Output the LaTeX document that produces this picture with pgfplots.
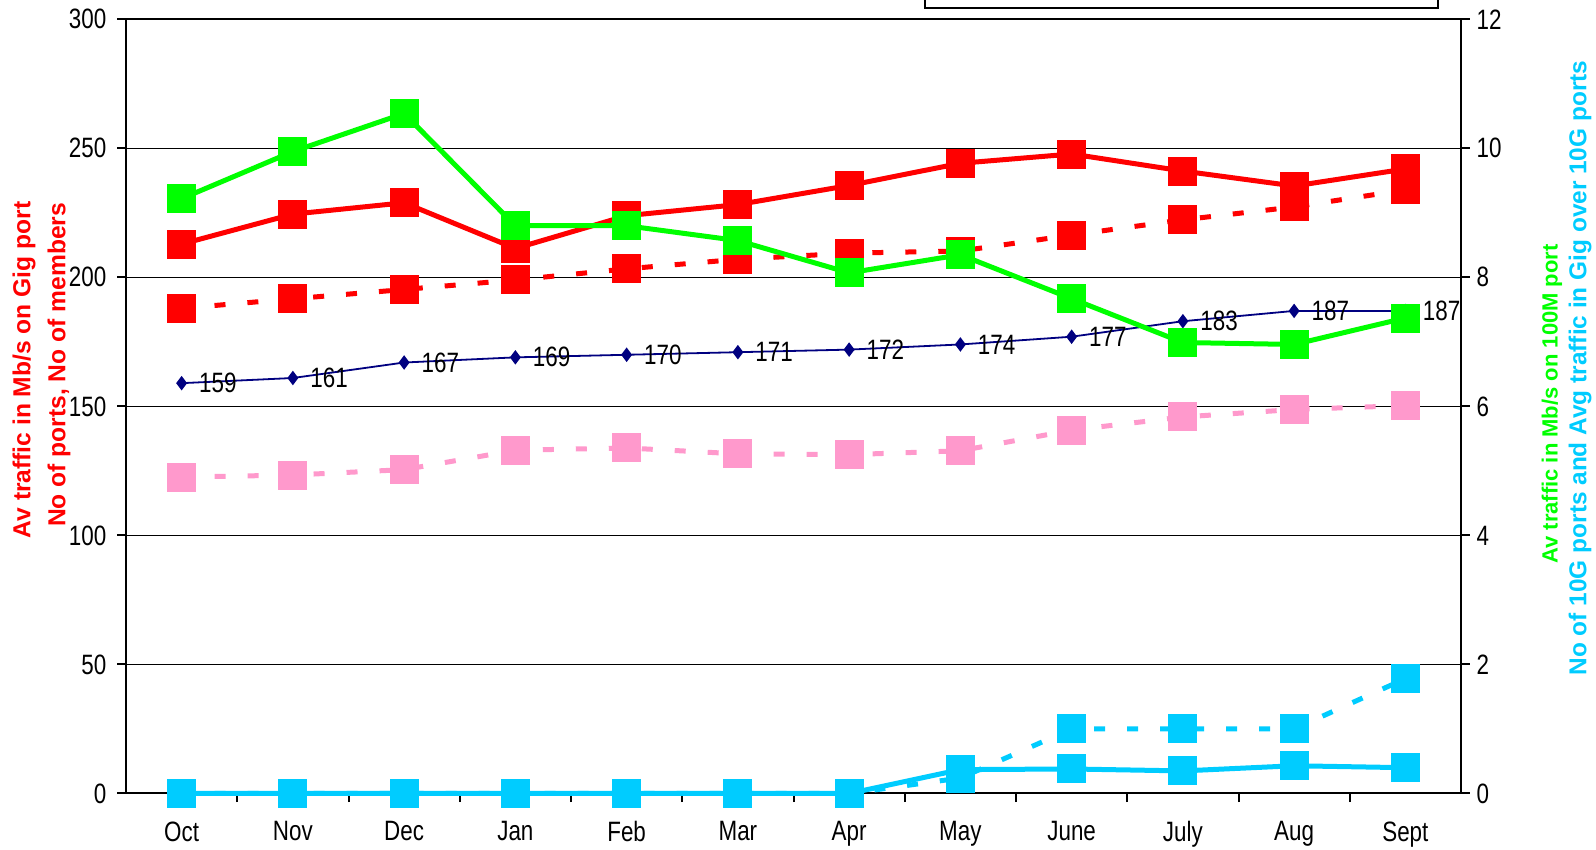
\documentclass[border=0pt]{standalone}
\usepackage{pgfplots}
\pgfplotsset{compat=1.18}
\usepackage{pgfplotstable}
\usepackage{fontspec}
\setmainfont{Liberation Sans}
\newfontfamily\narrow{Liberation Sans}[FakeStretch=0.8]
\definecolor{xred}{RGB}{255,0,0}
\definecolor{xgreen}{RGB}{0,255,0}
\definecolor{xpink}{RGB}{255,153,204}
\definecolor{xcyan}{RGB}{0,204,255}
\definecolor{xnavy}{RGB}{0,0,128}

\pgfplotstableread{
idx red reddash navy pink green cyan cyandash
0  212.9 188.0 159 122.6 9.22 0    0
1  224.5 191.7 161 123.4 9.95 0    0
2  228.9 195.3 167 125.5 10.54 0   0
3  211.2 199.0 169 133.0 8.80 0    0
4  223.9 203.3 170 133.9 8.80 0    0
5  228.2 207.0 171 131.6 8.57 0    0
6  235.6 209.4 172 131.3 8.07 0    0
7  244.2 210.2 174 132.8 8.35 0.37 0.24
8  247.8 216.4 177 140.8 7.67 0.38 1.00
9  241.2 222.3 183 145.9 6.99 0.35 1.00
10 235.4 227.3 187 148.8 6.96 0.43 1.00
11 242.0 233.9 187 150.3 7.37 0.40 1.78
}\datatable

\begin{document}
\begin{tikzpicture}
\pgfplotsset{
  common/.style={
    scale only axis, width=667.5pt, height=387.1pt,
    at={(0pt,0pt)}, anchor=south west,
    xmin=-0.5, xmax=11.5,
    /pgf/number format/assume math mode=true,
    tick align=outside, major tick length=4.3pt,
    ticklabel style={font=\narrow\fontsize{14}{16}\selectfont},
    axis line style={black, line width=1pt},
    tick style={black, line width=1pt},
    clip=false,
  },
  sq/.style={line width=2.5pt, mark=square*, mark size=7pt, mark options={solid, line width=0pt}},
  dsh/.style={dash pattern=on 5.5pt off 11pt},
}
\begin{axis}[common,
  axis y line*=left, axis x line*=bottom,
  ymin=0, ymax=300, ytick={0,50,...,300},
  ymajorgrids, grid style={black, line width=0.8pt},
  xtick={0.5,1.5,...,10.5}, xticklabels={},
  extra x ticks={0,1,...,11},
  extra x tick labels={Oct,Nov,Dec,Jan,Feb,Mar,Apr,May,June,July,Aug,Sept},
  extra x tick style={major tick length=0pt, xticklabel style={yshift=-10.5pt}},
  yticklabel style={xshift=-2pt},
]
\addplot[color=xpink, sq, dsh] table[x=idx, y=pink] {\datatable};
\addplot[color=xred, sq, dsh] table[x=idx, y=reddash] {\datatable};
\addplot[color=xred, sq] table[x=idx, y=red] {\datatable};
\addplot[color=xnavy, line width=0.9pt, mark=diamond*, mark size=2.9pt, mark options={solid},
  nodes near coords, point meta=y,
  every node near coord/.append style={anchor=west, xshift=5pt, text=black, font=\narrow\fontsize{14}{16}\selectfont}]
  table[x=idx, y=navy] {\datatable};
\end{axis}
\begin{axis}[common,
  axis y line*=right, axis x line=none,
  ymin=0, ymax=12, ytick={0,2,...,12},
]
\addplot[color=xgreen, sq] table[x=idx, y=green] {\datatable};
\addplot[color=xcyan, sq, dsh] table[x=idx, y=cyandash] {\datatable};
\addplot[color=xcyan, sq] table[x=idx, y=cyan] {\datatable};
\end{axis}
\node[rotate=90, text=xred, font=\bfseries\fontsize{12.3}{14}\selectfont] at (-51pt, 211.75pt) {Av traffic in Mb/s on Gig port};
\node[rotate=90, text=xred, font=\bfseries\fontsize{12.3}{14}\selectfont] at (-33.5pt, 214.25pt) {No of ports, No of members};
\node[rotate=90, text=xgreen, font=\bfseries\fontsize{11}{13}\selectfont] at (713pt, 194.75pt) {Av traffic in Mb/s on 100M port};
\node[rotate=90, text=xcyan, font=\bfseries\fontsize{12.2}{14}\selectfont] at (727pt, 212.75pt) {No of 10G ports and Avg traffic in Gig over 10G ports};
\draw[line width=1pt] (399.5pt, 392.5pt) rectangle (656pt, 420pt);
\pgfresetboundingbox
\path[use as bounding box] (-63pt,-28.25pt) rectangle (735pt,396.75pt);
\end{tikzpicture}
\end{document}
